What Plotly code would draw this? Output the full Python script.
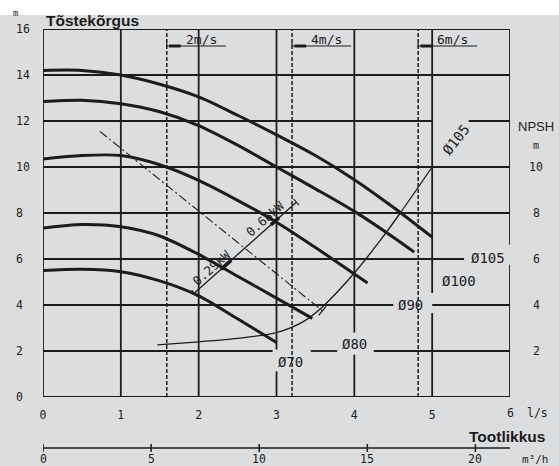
import plotly.graph_objects as go

# ---------------- data ----------------
flow_ticks_ls = [0, 1, 2, 3, 4, 5, 6]
flow_ticks_m3h = [0, 5, 10, 15, 20]
head_ticks = [0, 2, 4, 6, 8, 10, 12, 14, 16]
npsh_ticks = [2, 4, 6, 8, 10]

d105_q = [0, 0.5, 1.0, 1.5, 2.0, 2.5, 3.0, 3.5, 4.0, 4.5, 5.0]
d105_h = [14.2, 14.2, 14.0, 13.6, 13.05, 12.25, 11.4, 10.5, 9.45, 8.25, 6.95]
d100_q = [0, 0.5, 1.0, 1.5, 2.0, 2.5, 3.0, 3.5, 4.0, 4.5, 4.77]
d100_h = [12.85, 12.9, 12.75, 12.4, 11.8, 10.95, 10.0, 9.05, 8.07, 6.95, 6.3]
d90_q = [0, 0.5, 1.0, 1.5, 2.0, 2.5, 3.0, 3.5, 4.0, 4.17]
d90_h = [10.35, 10.5, 10.5, 10.1, 9.42, 8.55, 7.6, 6.5, 5.35, 4.96]
d80_q = [0, 0.5, 1.0, 1.5, 2.0, 2.5, 3.0, 3.46]
d80_h = [7.35, 7.5, 7.4, 7.0, 6.2, 5.25, 4.3, 3.42]
d70_q = [0, 0.5, 1.0, 1.5, 2.0, 2.5, 3.0]
d70_h = [5.5, 5.55, 5.45, 5.05, 4.4, 3.4, 2.37]

npsh_q = [1.47, 2.0, 2.5, 3.0, 3.35, 3.6, 4.0, 4.34, 4.59, 5.0]
npsh_h = [2.27, 2.4, 2.55, 2.8, 3.29, 3.95, 5.39, 6.84, 8.0, 10.0]

eff_q = [0.73, 3.59]
eff_h = [11.55, 3.75]
power_q = [1.945, 3.255]
power_h = [4.52, 8.47]
power_labels = ["0.29kW", "0.68kW"]

velocity_q = [1.59, 3.20, 4.82]
velocity_labels = ["2m/s", "4m/s", "6m/s"]

diam_labels = ["Ø70", "Ø80", "Ø90", "Ø100", "Ø105", "Ø105"]

M3H_PER_LS = 3.6

# ---------------- layout geometry ----------------
W, H = 559, 466
ML, MR, MT, MB = 43, 49, 29, 69
XR, YR = [0, 6], [0, 16]
PW, PH = W - ML - MR, H - MT - MB
PXU = PW / (XR[1] - XR[0])   # px per l/s
PYU = PH / (YR[1] - YR[0])   # px per m

BG = "#dcdddf"
INK = "#1c1c1c"
MONO = "DejaVu Sans Mono, Liberation Mono, monospace"
SANS = "Liberation Sans, Arial, sans-serif"


def pxx(p):
    """pixel x -> paper x"""
    return (p - ML) / PW


def pxy(p):
    """pixel y (from top) -> paper y"""
    return 1 - (p - MT) / PH


def note(**kw):
    kw.setdefault("showarrow", False)
    kw.setdefault("xanchor", "center")
    kw.setdefault("yanchor", "middle")
    fig.add_annotation(**kw)


fig = go.Figure()

# grid segments (with breaks where labels sit)
h_grid = {
    0: [(0, 6)], 2: [(0, 2.95), (3.44, 3.78), (4.25, 6)], 4: [(0, 4.5), (5.0, 6)],
    6: [(0, 5.41)], 8: [(0, 6)], 10: [(0, 6)], 12: [(0, 5.0), (5.47, 6)],
    14: [(0, 6)], 16: [(0, 6)],
}
v_grid = {
    0: [(0, 16)], 1: [(0, 16)], 2: [(0, 16)], 3: [(0, 1.11), (2.06, 16)],
    4: [(0, 1.84), (2.8, 16)], 5: [(0, 3.65), (4.52, 16)], 6: [(0, 5.75), (6.62, 16)],
}
shapes = []
for yv, segs in h_grid.items():
    for a, b in segs:
        shapes.append(dict(type="line", xref="x", yref="y", x0=a, x1=b, y0=yv, y1=yv,
                           line=dict(color=INK, width=1.8), layer="below"))
for xv, segs in v_grid.items():
    for a, b in segs:
        shapes.append(dict(type="line", xref="x", yref="y", x0=xv, x1=xv, y0=a, y1=b,
                           line=dict(color=INK, width=1.8), layer="below"))

# white strip at top of page
shapes.append(dict(type="rect", xref="paper", yref="paper", x0=pxx(0), x1=pxx(W),
                   y0=pxy(15), y1=pxy(0), fillcolor="white", line=dict(width=0), layer="below"))

# velocity lines and their arrows
for v, lab in zip(velocity_q, velocity_labels):
    fig.add_trace(go.Scatter(x=[v, v], y=[0, 16], mode="lines", hoverinfo="skip",
                             line=dict(color=INK, width=1.5, dash="4px,2px"), showlegend=False))
    ya = 16 - (46 - MT) / PYU
    shapes.append(dict(type="line", xref="x", yref="y", x0=v, x1=v + 0.76, y0=ya, y1=ya,
                       line=dict(color=INK, width=1.2)))
    shapes.append(dict(type="line", xref="x", yref="y", x0=v + 0.03, x1=v + 0.18, y0=ya, y1=ya,
                       line=dict(color=INK, width=3)))
    shapes.append(dict(type="line", xref="x", yref="y", x0=v, x1=v, y0=ya, y1=ya + 3 / PYU,
                       line=dict(color=INK, width=1.2)))
    note(x=v + 0.44, y=16 - (39 - MT) / PYU, text=lab,
         font=dict(family=MONO, size=13, color=INK))

# pump curves
for q, h in [(d105_q, d105_h), (d100_q, d100_h), (d90_q, d90_h), (d80_q, d80_h), (d70_q, d70_h)]:
    fig.add_trace(go.Scatter(x=q, y=h, mode="lines", hoverinfo="skip", showlegend=False,
                             line=dict(color=INK, width=3, shape="spline", smoothing=0.8)))

# NPSH curve
fig.add_trace(go.Scatter(x=npsh_q, y=npsh_h, mode="lines", hoverinfo="skip", showlegend=False,
                         line=dict(color=INK, width=1.3, shape="spline", smoothing=0.8)))

# efficiency dash-dot line
fig.add_trace(go.Scatter(x=eff_q, y=eff_h, mode="lines", hoverinfo="skip", showlegend=False,
                         line=dict(color=INK, width=1.1, dash="9px,3px,2px,3px")))

# power line
fig.add_trace(go.Scatter(x=power_q, y=power_h, mode="lines", hoverinfo="skip", showlegend=False,
                         line=dict(color=INK, width=1.3)))


def along(q, h, t):
    return q[0] + (q[1] - q[0]) * t, h[0] + (h[1] - h[0]) * t


def perp_tick(q, h, end, half_px):
    dxp = (q[1] - q[0]) * PXU
    dyp = (h[1] - h[0]) * PYU
    L = (dxp ** 2 + dyp ** 2) ** 0.5
    nx, ny = -dyp / L, dxp / L
    px, py = q[end], h[end]
    return dict(type="line", xref="x", yref="y",
                x0=px - nx * half_px / PXU, y0=py - ny * half_px / PYU,
                x1=px + nx * half_px / PXU, y1=py + ny * half_px / PYU,
                line=dict(color=INK, width=1.2))


for t0, t1 in [(0.26, 0.36), (0.75, 0.83)]:
    xa, ya_ = along(power_q, power_h, t0)
    xb, yb = along(power_q, power_h, t1)
    shapes.append(dict(type="line", xref="x", yref="y", x0=xa, y0=ya_, x1=xb, y1=yb,
                       line=dict(color=INK, width=3.5)))
shapes.append(perp_tick(power_q, power_h, 0, 4))
shapes.append(perp_tick(power_q, power_h, 1, 4))
shapes.append(perp_tick(eff_q, eff_h, 1, 6))

# power labels
ang = -41.5
for (qq, hh), lab in zip([(2.171, 5.61), (2.857, 7.77)], power_labels):
    note(x=qq, y=hh, text=lab, textangle=ang, font=dict(family=MONO, size=12.5, color=INK))

# diameter labels
diam_pos = [(3.18, 1.54, 0), (4.0, 2.32, 0), (4.72, 4.01, 0), (5.35, 5.06, 0),
            (5.72, 6.06, 0), (5.30, 11.19, -52)]
for (qq, hh, a), lab in zip(diam_pos, diam_labels):
    note(x=qq, y=hh, text=lab, textangle=a, font=dict(family=MONO, size=14, color=INK))

# left head tick labels
for v in head_ticks:
    note(xref="paper", yref="y", x=pxx(14), y=v, text=str(v), xanchor="left",
         font=dict(family=MONO, size=11.5, color=INK))
# right NPSH tick labels
for v in npsh_ticks:
    note(xref="paper", yref="y", x=pxx(536), y=v, text=str(v),
         font=dict(family=MONO, size=11.5, color=INK))
note(xref="paper", yref="paper", x=pxx(536), y=pxy(127), text="NPSH",
     font=dict(family=SANS, size=13, color=INK))
note(xref="paper", yref="paper", x=pxx(536), y=pxy(145), text="m",
     font=dict(family=MONO, size=10, color=INK))

# titles
note(xref="paper", yref="paper", x=pxx(15), y=pxy(13), text="m",
     font=dict(family=MONO, size=9, color=INK))
note(xref="paper", yref="paper", x=pxx(44), y=pxy(21), text="<b>Tõstekõrgus</b>", xanchor="left",
     font=dict(family=SANS, size=15.5, color=INK))
note(xref="paper", yref="paper", x=pxx(547), y=pxy(436), text="<b>Tootlikkus</b>", xanchor="right",
     font=dict(family=SANS, size=15.5, color=INK))
note(xref="paper", yref="paper", x=pxx(537), y=pxy(413), text="l/s",
     font=dict(family=MONO, size=11.5, color=INK))

# m3/h secondary scale (built on the l/s axis)
y_sec = pxy(448)
shapes.append(dict(type="line", xref="x", yref="paper", x0=0, x1=21.7 / M3H_PER_LS, y0=y_sec, y1=y_sec,
                   line=dict(color=INK, width=1.5)))
for m in flow_ticks_m3h:
    shapes.append(dict(type="line", xref="x", yref="paper", x0=m / M3H_PER_LS, x1=m / M3H_PER_LS,
                       y0=pxy(444), y1=pxy(452), line=dict(color=INK, width=1.5)))
    note(xref="x", yref="paper", x=m / M3H_PER_LS, y=pxy(459.5), text=str(m),
         font=dict(family=MONO, size=11.5, color=INK))
note(xref="paper", yref="paper", x=pxx(535), y=pxy(459), text="m³/h",
     font=dict(family=MONO, size=11, color=INK))

fig.update_layout(
    width=W, height=H, margin=dict(l=ML, r=MR, t=MT, b=MB),
    paper_bgcolor=BG, plot_bgcolor=BG, shapes=shapes, showlegend=False,
    xaxis=dict(range=XR, showgrid=False, zeroline=False, showline=False,
               tickvals=flow_ticks_ls[:-1], ticktext=[str(v) for v in flow_ticks_ls[:-1]],
               ticks="", ticklabelstandoff=9,
               tickfont=dict(family=MONO, size=11.5, color=INK)),
    yaxis=dict(range=YR, showgrid=False, zeroline=False, showline=False, showticklabels=False),
)
# the last tick label of the l/s scale, placed like the reference
note(xref="x", yref="paper", x=flow_ticks_ls[-1], y=pxy(413), text=str(flow_ticks_ls[-1]),
     font=dict(family=MONO, size=11.5, color=INK))

fig.write_html("out.html", config={"displayModeBar": False},
               post_script="document.body.style.margin='0';document.body.style.overflow='hidden';")
